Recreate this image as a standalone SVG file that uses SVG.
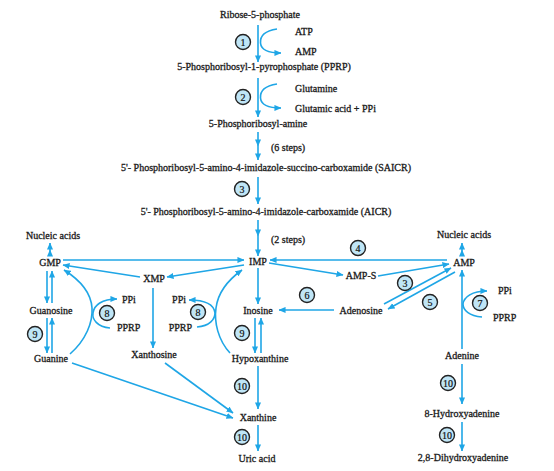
<svg xmlns="http://www.w3.org/2000/svg" width="554" height="471" viewBox="0 0 554 471">
<defs>
<marker id="ah" viewBox="0 0 8 8" refX="7.5" refY="4" markerWidth="7" markerHeight="7" markerUnits="userSpaceOnUse" orient="auto">
<path d="M0,0.5 L8,4 L0,7.5 z" fill="#1fa6e6"/>
</marker>
<style>
.t{font-family:"Liberation Serif","Times New Roman",serif;font-size:10px;fill:#1a1a1a;stroke:#1a1a1a;stroke-width:0.3;}
.m{text-anchor:middle;}
.e{text-anchor:end;}
.c circle{fill:#bfe5f6;stroke:#222;stroke-width:1.4;}
.c text{font-family:"Liberation Serif","Times New Roman",serif;font-size:10px;fill:#111;stroke:#111;stroke-width:0.2;text-anchor:middle;}
#connectors line,#connectors path{stroke:#1fa6e6;stroke-width:1.6;fill:none;marker-end:url(#ah);}
</style>
</defs>
<rect width="554" height="471" fill="#ffffff"/>

<g id="connectors">
<line x1="258" y1="25" x2="258" y2="62"/>
<path d="M277,29 C264,31 260,37 260.5,43 C261,49 267,53 281,53"/>
<line x1="258" y1="78" x2="258" y2="117"/>
<path d="M277,84 C264,86 260,92 260.5,98 C261,104 267,108 281,108"/>
<line x1="258" y1="132" x2="258" y2="146"/>
<line x1="258" y1="146" x2="258" y2="160"/>
<line x1="258" y1="177" x2="258" y2="204"/>
<line x1="258" y1="220" x2="258" y2="236"/>
<line x1="258" y1="236" x2="258" y2="256"/>
<line x1="63" y1="260" x2="244" y2="260"/>
<line x1="244" y1="265" x2="167" y2="277"/>
<line x1="140" y1="277" x2="63" y2="265"/>
<line x1="153" y1="288" x2="153" y2="348"/>
<line x1="47" y1="271" x2="47" y2="303"/>
<line x1="52" y1="303" x2="52" y2="271"/>
<line x1="47" y1="318" x2="47" y2="353"/>
<line x1="52" y1="353" x2="52" y2="318"/>
<line x1="50" y1="256" x2="50" y2="250"/>
<line x1="50" y1="250" x2="50" y2="243"/>
<path d="M70,354 C86,340 93,322 92,308 C91,292 80,280 64,270"/>
<path d="M110,328 C97,327 92,319 93,313 C94,305 102,299 117,299"/>
<path d="M197,327 C210,326 215,319 215,313 C214,305 206,300 189,300"/>
<path d="M230,353 C218,340 214,322 216,308 C218,292 228,280 242,270"/>
<line x1="72" y1="363" x2="233" y2="418"/>
<line x1="165" y1="363" x2="233" y2="413"/>
<line x1="258" y1="268" x2="258" y2="304"/>
<line x1="255" y1="318" x2="255" y2="353"/>
<line x1="261" y1="353" x2="261" y2="318"/>
<line x1="258" y1="366" x2="258" y2="409"/>
<line x1="258" y1="425" x2="258" y2="451"/>
<line x1="447" y1="260" x2="270" y2="260"/>
<line x1="269" y1="263" x2="343" y2="275"/>
<line x1="378" y1="276" x2="449" y2="264"/>
<line x1="384" y1="304" x2="451" y2="268"/>
<line x1="455" y1="272" x2="388" y2="309"/>
<line x1="334" y1="310" x2="279" y2="310"/>
<line x1="462" y1="349" x2="462" y2="270"/>
<line x1="462" y1="256" x2="462" y2="250"/>
<line x1="462" y1="250" x2="462" y2="243"/>
<path d="M482,317 C469,316 463,310 463,304 C464,297 472,291 487,291"/>
<line x1="462" y1="364" x2="462" y2="404"/>
<line x1="462" y1="422" x2="462" y2="451"/>
</g>

<g id="n-ribose"><text class="t m" x="260" y="18">Ribose-5-phosphate</text></g>
<g id="n-atp"><text class="t" x="295" y="35">ATP</text></g>
<g id="n-amp1"><text class="t" x="295" y="55">AMP</text></g>
<g id="n-pprp"><text class="t m" x="264" y="70">5-Phosphoribosyl-1-pyrophosphate (PPRP)</text></g>
<g id="n-glutamine"><text class="t" x="295" y="92">Glutamine</text></g>
<g id="n-glutamic"><text class="t" x="295" y="112">Glutamic acid + PPi</text></g>
<g id="n-amine"><text class="t m" x="258" y="127">5-Phosphoribosyl-amine</text></g>
<g id="n-6steps"><text class="t" x="271" y="151">(6 steps)</text></g>
<g id="n-saicr"><text class="t m" x="266" y="171">5'- Phosphoribosyl-5-amino-4-imidazole-succino-carboxamide (SAICR)</text></g>
<g id="n-aicr"><text class="t m" x="266" y="215">5'- Phosphoribosyl-5-amino-4-imidazole-carboxamide (AICR)</text></g>
<g id="n-2steps"><text class="t" x="271" y="243">(2 steps)</text></g>
<g id="n-imp"><text class="t m" x="258" y="265">IMP</text></g>
<g id="n-nucleic-l"><text class="t m" x="53" y="239">Nucleic acids</text></g>
<g id="n-gmp"><text class="t m" x="50" y="266">GMP</text></g>
<g id="n-xmp"><text class="t m" x="154" y="282">XMP</text></g>
<g id="n-guanosine"><text class="t m" x="51" y="314">Guanosine</text></g>
<g id="n-guanine"><text class="t m" x="51" y="362">Guanine</text></g>
<g id="n-ppi-l"><text class="t" x="122" y="303">PPi</text></g>
<g id="n-pprp-l"><text class="t" x="117" y="331">PPRP</text></g>
<g id="n-ppi-m"><text class="t e" x="186" y="303">PPi</text></g>
<g id="n-pprp-m"><text class="t e" x="192" y="331">PPRP</text></g>
<g id="n-xanthosine"><text class="t m" x="154" y="358">Xanthosine</text></g>
<g id="n-inosine"><text class="t m" x="258" y="314">Inosine</text></g>
<g id="n-hypoxanthine"><text class="t m" x="260" y="362">Hypoxanthine</text></g>
<g id="n-xanthine"><text class="t m" x="258" y="421">Xanthine</text></g>
<g id="n-uric"><text class="t m" x="257" y="462">Uric acid</text></g>
<g id="n-amps"><text class="t m" x="361" y="279">AMP-S</text></g>
<g id="n-adenosine"><text class="t m" x="361" y="314">Adenosine</text></g>
<g id="n-nucleic-r"><text class="t m" x="464" y="238">Nucleic acids</text></g>
<g id="n-amp"><text class="t m" x="464" y="266">AMP</text></g>
<g id="n-ppi-r"><text class="t" x="498" y="294">PPi</text></g>
<g id="n-pprp-r"><text class="t" x="493" y="321">PPRP</text></g>
<g id="n-adenine"><text class="t m" x="462" y="359">Adenine</text></g>
<g id="n-8oh"><text class="t m" x="462" y="417">8-Hydroxyadenine</text></g>
<g id="n-28di"><text class="t m" x="463" y="461">2,8-Dihydroxyadenine</text></g>

<g id="c1" class="c"><circle cx="243" cy="42" r="7.5"/><text x="243" y="45.5">1</text></g>
<g id="c2" class="c"><circle cx="243" cy="97" r="7.5"/><text x="243" y="100.5">2</text></g>
<g id="c3a" class="c"><circle cx="242" cy="189" r="7.5"/><text x="242" y="192.5">3</text></g>
<g id="c4" class="c"><circle cx="358" cy="248" r="7.5"/><text x="358" y="251.5">4</text></g>
<g id="c3b" class="c"><circle cx="405" cy="283" r="7.5"/><text x="405" y="286.5">3</text></g>
<g id="c5" class="c"><circle cx="430" cy="302" r="7.5"/><text x="430" y="305.5">5</text></g>
<g id="c6" class="c"><circle cx="307" cy="295" r="7.5"/><text x="307" y="298.5">6</text></g>
<g id="c7" class="c"><circle cx="480" cy="303" r="7.5"/><text x="480" y="306.5">7</text></g>
<g id="c8a" class="c"><circle cx="107" cy="313" r="7.5"/><text x="107" y="316.5">8</text></g>
<g id="c8b" class="c"><circle cx="198" cy="312" r="7.5"/><text x="198" y="315.5">8</text></g>
<g id="c9a" class="c"><circle cx="35" cy="334" r="7.5"/><text x="35" y="337.5">9</text></g>
<g id="c9b" class="c"><circle cx="242" cy="333" r="7.5"/><text x="242" y="336.5">9</text></g>
<g id="c10a" class="c"><circle cx="242" cy="386" r="7.5"/><text x="242" y="389.5">10</text></g>
<g id="c10b" class="c"><circle cx="242" cy="437" r="7.5"/><text x="242" y="440.5">10</text></g>
<g id="c10c" class="c"><circle cx="448" cy="383" r="7.5"/><text x="448" y="386.5">10</text></g>
<g id="c10d" class="c"><circle cx="447" cy="435" r="7.5"/><text x="447" y="438.5">10</text></g>
</svg>
